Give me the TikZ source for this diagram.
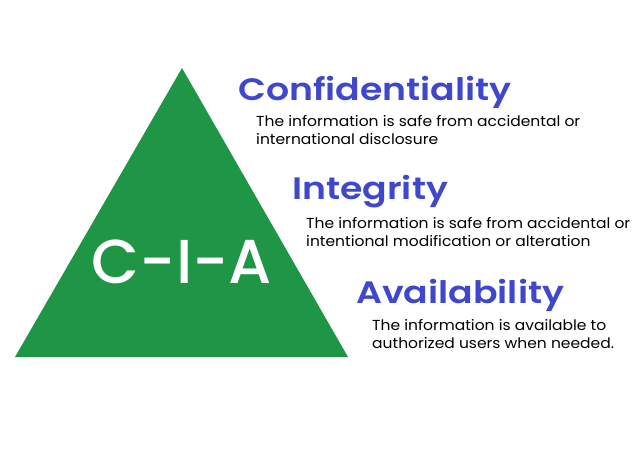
\documentclass[tikz,border=0pt]{standalone}
\usepackage{fontspec}
\setmainfont{Poppins}[FakeStretch=1.07]
\newfontfamily\headfont{Poppins}[UprightFont=* SemiBold, FakeStretch=1.17]
\newfontfamily\markfont{Poppins}[UprightFont=* Medium]
\definecolor{triGreen}{HTML}{1E9646}
\definecolor{headBlue}{HTML}{3F48CC}
\begin{document}
\begin{tikzpicture}[x=1pt,y=-1pt,
  heading/.style={anchor=base west, inner sep=0pt, text=headBlue, font=\headfont\fontsize{31}{31}\selectfont},
  body/.style={anchor=base west, inner sep=0pt, font=\fontsize{14.5}{18}\selectfont}]
  \useasboundingbox (0,0) rectangle (644,455);
  % triangle with its label
  \fill[triGreen] (182,68) -- (348,357) -- (15,357) -- cycle;
  \node[inner sep=0pt, anchor=base, text=white, font=\markfont\fontsize{62}{62}\selectfont] (cia) at (182,283) {C-I-A};
  % confidentiality
  \node[heading] (conf) at (238,100) {Confidentiality};
  \node[body] (conf1) at (256,126) {The information is safe from accidental or};
  \node[body] (conf2) at (256,144) {international disclosure};
  % integrity
  \node[heading] (integ) at (292,199) {Integrity};
  \node[body] (integ1) at (306,228) {The information is safe from accidental or};
  \node[body] (integ2) at (306,246) {intentional modification or alteration};
  % availability
  \node[heading] (avail) at (356,303) {Availability};
  \node[body] (avail1) at (372,330) {The information is available to};
  \node[body] (avail2) at (372,348) {authorized users when needed.};
\end{tikzpicture}
\end{document}
